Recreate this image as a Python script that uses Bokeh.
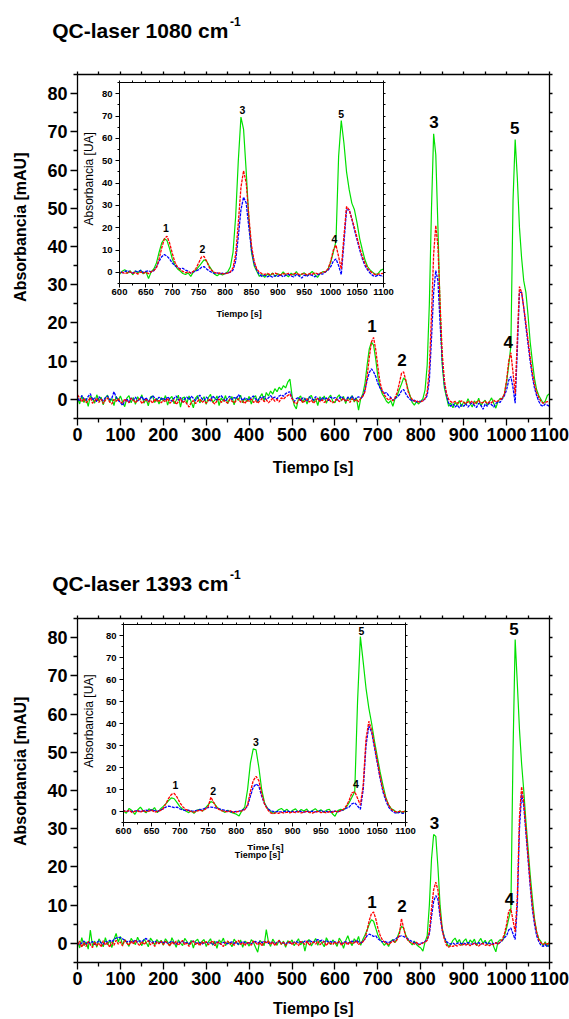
from math import pi

from bokeh.embed import file_html
from bokeh.layouts import column
from bokeh.models import ColumnDataSource, FixedTicker, Label, LinearAxis, Range1d
from bokeh.plotting import figure
from bokeh.resources import INLINE

# ---------------------------------------------------------------- data
# sampling grid of the chromatograms, seconds
time_s = list(range(0, 1101, 5))

# QC-laser at 1080 cm-1
green_1080 = [
    0.5, -1.2, 1.0, -0.8, 0.3, -1.8, 0.9, 0.2, -1.0, 1.2, -0.5, 0.6, -1.4, 0.4, 1.1, -0.7, 0.2, -1.6, 0.8, -0.3,
    0.9, -0.6, -1.9, 0.3, 1.0, -0.9, 0.5, -1.3, 0.7, -0.2, 1.2, -1.0, 0.1, -1.7, 0.6, 0.9, -0.8, 0.3, -1.2, 0.5,
    -0.4, 1.0, -1.5, 0.2, 0.8, -1.1, -0.3, 1.1, -2.0, 0.4, 0.6, -1.0, 0.9, -0.6, -2.2, 0.3, 1.0, -0.9, -0.2, 0.7,
    -1.3, 0.5, 1.3, -0.8, -0.2, 0.9, -1.6, 0.4, -0.5, 1.0, -1.1, 0.2, 0.7, -1.4, 0.6, -0.3, 1.1, -0.9, 0.3, -0.6,
    0.8, -1.2, 0.4, 1.0, -0.7, 0.6, 1.5, -0.4, 1.8, 0.9, 2.2, 1.4, 2.8, 2.0, 3.2, 2.5, 3.6, 3.0, 4.5, 5.3,
    1.0, -1.5, -2.5, 0.3, 0.9, -0.8, 0.4, -1.2, 0.6, 1.0, -0.5, 0.2, -1.6, 0.7, -0.3, 0.9, -1.0, 0.4, 1.1, -0.6,
    -0.9, 0.5, 1.2, -0.4, 0.8, -1.1, 0.6, -0.2, 1.0, -0.7, 0.4, -2.8, 0.2, 1.5, 4.2, 9.0, 13.2, 15.0, 14.2, 10.5,
    6.0, 3.2, 1.5, 0.6, -0.5, -1.0, -0.3, -1.8, 0.2, 1.0, 2.6, 4.0, 5.6, 5.0, 2.8, 1.0, -0.8, -1.5, -0.6, -1.2,
    -0.5, 0.2, 2.5, 9.0, 25.0, 50.0, 69.5, 64.0, 45.0, 24.0, 9.0, 3.0, 0.5, -1.8, -1.0, -2.2, -0.8, -1.5, -0.3, -1.9,
    -0.6, -1.4, 0.2, -1.1, -2.0, -0.4, -1.2, 0.3, -1.7, -0.8, -0.2, -1.5, -0.6, 0.4, -1.0, -2.3, -0.5, 0.3, 0.1, 1.5,
    4.5, 9.0, 14.0, 52.0, 68.0, 58.0, 45.0, 37.0, 31.0, 28.0, 22.0, 15.0, 10.0, 5.5, 2.5, 1.0, 0.0, -1.0, -0.5, 1.0,
    1.5,
]
red_1080 = [
    1.2, 0.4, -0.6, 0.2, -0.9, -0.3, 0.5, -1.0, -0.4, 0.3, -0.8, 0.1, -1.1, -0.2, 0.4, -0.7, -1.2, 0.0, -0.5, 0.2,
    -0.6, -1.0, 0.1, -0.4, -0.9, 0.3, -0.2, -0.8, -0.3, 0.2, -1.1, -0.5, 0.0, -0.7, -0.2, -1.0, 0.1, -0.6, -0.3, -0.9,
    -0.2, -0.7, 0.3, -1.0, -0.5, -0.1, -1.3, -0.6, 0.2, -0.9, -0.4, -1.2, -2.0, -0.8, -0.3, -1.1, -0.5, 0.1, -0.8, -0.4,
    -1.0, -0.3, 0.2, -0.7, -1.2, -0.4, 0.1, -0.8, -0.2, -0.6, -1.0, 0.0, -0.5, -0.9, -0.3, 0.2, -0.7, -0.4, -1.1, -0.2,
    -0.5, 0.1, -0.8, -0.3, -1.0, -0.4, 0.2, -0.6, -0.1, -0.9, -0.3, 0.3, -0.5, 0.0, -0.7, 0.4, 0.1, 0.6, 1.0, 1.4,
    0.2, -0.8, -1.2, -0.3, 0.1, -0.9, -0.4, 0.2, -0.7, -0.2, -1.0, -0.3, 0.3, -0.6, -0.1, -0.8, -0.4, 0.2, -0.5, -0.9,
    -0.3, 0.1, -0.6, -0.2, 0.3, -0.5, -0.1, -0.8, 0.2, -0.4, 0.0, -0.6, 0.3, 0.8, 2.0, 6.0, 11.0, 15.0, 16.2, 13.0,
    8.5, 4.5, 2.3, 1.2, 0.4, -0.2, 0.3, -0.4, 0.5, 1.8, 4.2, 6.8, 7.2, 5.0, 2.2, 0.8, 0.0, -0.5, -0.3, -0.7,
    -0.6, -0.4, 0.2, 2.0, 8.0, 22.0, 38.0, 45.5, 40.0, 25.0, 12.0, 5.0, 1.5, 0.0, -0.6, -0.9, -0.5, -1.0, -0.7, -0.4,
    -0.8, -1.1, -0.6, -0.9, -0.4, -1.2, -0.7, -0.3, -1.0, -0.8, -0.5, -1.1, -0.6, -0.9, -0.2, -0.7, -0.4, 0.0, 0.3, 1.5,
    5.0, 10.0, 12.2, 7.0, 1.5, 16.0, 29.5, 28.0, 24.0, 20.0, 15.5, 11.0, 7.0, 4.0, 1.8, 0.5, -0.5, -1.0, -0.8, -0.6,
    -0.5,
]
blue_1080 = [
    0.3, -0.5, 1.0, 0.2, -0.3, 0.8, 1.5, -0.2, 0.4, -0.6, 0.7, 0.1, -0.4, 0.5, 0.9, -0.1, 0.3, 2.0, 0.6, -0.3,
    -0.8, -1.6, -0.5, 0.2, -0.9, 0.4, -0.2, 0.6, -0.4, 0.1, 0.8, -0.3, 0.5, -0.6, 0.2, 1.0, 0.4, -0.2, 0.6, 0.0,
    0.4, -0.3, 0.7, 0.1, -0.5, 0.3, 0.9, -0.2, 0.5, -0.7, 0.2, 0.6, -0.1, 0.8, 0.3, -0.4, 0.5, 1.1, 0.2, -0.3,
    0.6, 0.1, -0.4, 0.9, 0.3, -0.2, 0.7, 1.0, 0.2, -0.5, 0.4, 0.8, -0.1, 0.5, 0.2, 1.2, 0.6, -0.3, 0.4, 0.1,
    -0.2, 0.5, 0.9, 0.1, -0.4, 0.6, 0.2, 0.8, -0.1, 0.4, 1.0, 0.3, 0.6, 0.1, 0.9, 1.2, 0.8, 1.5, 1.8, 2.0,
    0.3, -0.6, 0.2, 0.5, -0.3, 0.4, 0.1, -0.5, 0.6, 0.2, -0.2, 0.7, 0.3, -0.4, 0.5, 0.0, 0.4, -0.3, 0.6, 0.2,
    0.5, -0.2, 0.3, 0.8, 0.1, -0.4, 0.6, 0.2, 0.9, -0.1, 0.4, 0.7, 0.2, 0.8, 2.5, 5.0, 7.0, 8.0, 7.2, 6.0,
    4.2, 3.0, 2.2, 1.6, 1.8, 1.0, 0.5, -0.3, 0.2, 0.6, 1.2, 2.2, 2.6, 1.5, 0.6, 0.0, -0.5, -0.2, -0.7, -0.4,
    -0.6, -0.3, 0.1, 1.0, 5.0, 16.0, 28.0, 33.7, 31.0, 20.0, 10.0, 4.0, 1.0, -1.0, -1.8, -1.2, -2.0, -1.5, -2.2, -1.4,
    -1.8, -1.1, -2.0, -1.3, -0.9, -1.6, -2.1, -1.0, -1.5, -2.6, -1.2, -1.8, -0.9, -1.4, -2.0, -1.1, -0.6, -0.8, 0.2, 1.0,
    2.5, 5.0, 6.0, 3.0, -1.0, 13.0, 28.0, 28.0, 24.0, 19.0, 14.5, 10.0, 6.0, 3.0, 1.0, -0.5, -1.5, -1.8, -1.2, -1.5,
    -1.8,
]

# QC-laser at 1393 cm-1
green_1393 = [
    0.8, -1.2, 1.5, -0.6, 0.4, -1.5, 3.5, -0.8, 0.6, -1.0, 1.2, 0.2, -0.9, 1.5, -0.4, 0.8, -1.1, 1.0, 2.6, 0.3,
    1.8, -0.5, 1.0, 0.2, -0.8, 1.3, 0.5, -0.3, 1.6, 0.4, -0.6, 1.1, 0.3, -0.9, 1.4, 0.6, -0.4, 1.0, 0.2, 0.8,
    -0.5, 1.2, 0.4, -0.7, 1.5, 0.3, -1.0, 0.9, 0.1, -0.6, 1.3, 0.5, -0.4, 0.8, -1.2, 0.6, 1.1, -0.3, 0.5, 1.0,
    -0.8, 0.4, 1.2, -0.5, 0.6, -1.3, 0.9, 0.2, 1.4, -0.6, 0.5, 0.1, -0.9, 1.1, 0.3, -0.4, 0.9, -1.0, 0.6, 0.2,
    -0.7, 1.0, 0.3, -1.1, -2.3, 0.8, 0.2, -0.6, 3.6, 0.4, -0.8, 1.1, 0.2, -0.5, 0.9, -0.3, 0.6, -1.0, 0.7, 0.1,
    0.9, -0.6, 0.3, 1.2, -0.4, 0.6, -2.0, 0.5, 1.0, -0.7, 0.3, 1.3, -0.5, 0.8, 0.1, -0.9, 1.5, 0.4, -0.3, 0.9,
    0.2, -0.8, 1.4, 0.5, -1.3, 0.7, 2.0, 0.3, -0.6, 1.2, 0.4, 1.8, -0.5, 1.0, 2.2, 3.5, 5.0, 6.2, 5.8, 4.0,
    2.2, 1.0, 0.3, -0.5, 0.2, -0.8, 0.5, 1.0, 0.2, 1.5, 3.0, 4.5, 4.0, 2.2, 1.0, 0.3, -0.4, 0.6, -0.3, -0.8,
    -1.2, -2.0, 0.4, 2.0, 10.0, 22.0, 28.5, 28.0, 20.0, 10.0, 4.0, 1.5, 0.2, -0.8, -0.3, 0.8, 1.4, 0.2, 1.0, -0.5,
    0.6, 1.2, -0.3, 0.9, 0.2, 1.1, -0.6, 0.5, 1.3, 0.0, 0.8, -0.4, 0.6, 1.0, -0.9, -2.2, 0.4, 1.0, 0.6, 2.0,
    4.0, 6.5, 9.0, 50.0, 79.5, 68.0, 56.0, 47.0, 40.0, 32.0, 25.0, 18.0, 12.0, 6.5, 3.0, 1.2, 0.5, -0.6, 0.4, -0.8,
    0.5,
]
red_1393 = [
    -0.5, 0.6, -1.0, 0.2, -0.8, 0.5, -0.3, -1.1, 0.4, -0.6, 0.1, -0.9, 0.7, -0.4, 0.2, -1.0, 0.3, -0.5, 0.8, -0.2,
    0.4, -0.7, 0.9, 0.1, -0.5, 0.6, -0.2, 0.8, 0.0, -0.6, 0.5, -0.3, 0.3, 0.7, -0.4, 0.2, -0.8, 0.4, -0.1, 0.6,
    -0.3, 0.5, 0.1, -0.7, 0.4, -0.2, 0.6, -0.5, 0.2, 0.8, -0.4, 0.1, -0.8, 0.3, 0.6, -0.3, 0.2, -0.6, 0.4, 0.0,
    0.5, -0.4, 0.2, 0.7, -0.6, 0.1, 0.4, -0.3, -0.8, 0.3, 0.6, -0.2, 0.1, -0.5, 0.4, 0.8, -0.3, 0.2, -0.6, 0.3,
    0.1, -0.5, 0.6, 0.2, -0.4, 0.3, -0.7, 0.5, 0.0, 0.7, -0.3, 0.4, -0.6, 0.2, 0.8, -0.2, 0.3, -0.5, 0.1, 0.6,
    -0.4, 0.3, 0.0, -0.6, 0.5, 0.2, -0.3, 0.7, -0.5, 0.1, 0.4, -0.2, 0.6, -0.4, 0.2, 0.5, -0.6, 0.3, 0.0, -0.3,
    0.4, -0.2, 0.6, -0.5, 0.1, 0.3, -0.4, 0.5, -0.1, 0.2, 0.6, -0.3, 0.1, 0.4, 1.2, 3.5, 6.0, 7.8, 8.2, 6.5,
    4.0, 2.2, 1.0, 0.4, 0.0, -0.3, 0.2, 0.6, 0.3, 1.0, 2.2, 6.5, 4.0, 1.8, 0.8, 0.3, 0.1, -0.2, 0.3, -0.4,
    -0.2, 0.1, 0.3, 0.8, 3.0, 9.0, 14.0, 16.0, 14.0, 8.0, 3.5, 1.0, -0.5, -1.0, -0.6, -0.8, -0.4, -0.7, -0.3, -0.6,
    -0.2, -0.5, -0.1, -0.6, -0.3, 0.1, -0.4, -0.7, -0.2, 0.0, -0.5, -0.3, -0.6, -0.1, -0.4, 0.2, -0.2, 0.4, 1.0, 2.5,
    5.0, 8.5, 9.0, 6.0, 3.0, 12.0, 33.0, 41.0, 37.0, 30.0, 23.0, 16.0, 10.0, 6.0, 3.0, 1.0, 0.2, -0.3, 0.1, -0.2,
    0.2,
]
blue_1393 = [
    0.3, -0.4, 0.1, 0.6, -0.2, 0.4, 0.0, 0.5, -0.3, 0.2, 0.7, 0.1, -0.2, 0.5, 0.3, 0.8, 0.4, 1.0, 1.4, 1.6,
    1.5, 1.2, 0.8, 0.4, 0.6, 0.2, 0.5, 0.9, 0.3, 0.7, 0.4, 1.0, 1.3, 0.8, 0.5, 0.2, 0.6, 0.3, 0.1, 0.4,
    0.2, 0.5, 0.0, 0.3, 0.6, 0.1, -0.2, 0.4, 0.2, 0.5, 0.0, 0.3, -0.1, 0.4, 0.6, 0.2, 0.0, 0.3, -0.2, 0.1,
    0.3, 0.0, 0.2, -0.3, 0.1, 0.4, 0.0, -0.2, 0.3, 0.1, -0.1, 0.2, 0.4, 0.0, 0.3, -0.2, 0.1, 0.5, 0.2, 0.0,
    0.2, -0.1, 0.3, 0.5, 0.1, 0.4, 0.2, 0.6, 0.3, 0.0, 0.4, 0.2, -0.1, 0.3, 0.5, 0.1, 0.2, -0.2, 0.3, 0.1,
    0.0, 0.3, 0.5, 0.2, 0.4, 0.1, 0.6, 0.3, 0.8, 0.5, 0.2, 0.7, 1.0, 0.6, 0.9, 0.4, 0.7, 0.3, 0.5, 0.2,
    0.4, 0.1, 0.3, -0.1, 0.2, 0.5, 0.0, 0.3, 0.6, 0.2, 0.8, 0.4, 0.1, 0.5, 1.2, 2.0, 2.4, 2.2, 1.8, 2.0,
    1.2, 0.8, 0.4, 0.6, 0.3, 0.2, 0.5, 0.8, 1.0, 1.5, 1.8, 2.0, 1.8, 1.5, 1.2, 0.8, 0.5, 0.2, 0.0, -0.2,
    0.0, 0.2, 0.5, 1.0, 2.5, 7.0, 11.0, 12.5, 11.5, 7.0, 3.5, 1.5, 0.5, 0.0, -0.2, 0.1, -0.3, 0.0, 0.2, -0.1,
    0.1, -0.2, 0.2, 0.0, -0.3, 0.1, -0.1, 0.2, -0.2, 0.0, 0.3, -0.1, 0.1, -0.3, 0.0, 0.2, -0.2, 0.3, 0.8, 1.5,
    2.0, 3.5, 4.0, 2.5, 1.0, 10.0, 30.0, 39.0, 36.0, 29.0, 22.0, 15.0, 9.0, 5.0, 2.0, 0.5, -0.5, -0.8, -0.3, -0.9,
    -0.5,
]

for series in (green_1080, red_1080, blue_1080, green_1393, red_1393, blue_1393):
    assert len(series) == len(time_s), len(series)

# peak numbering and where the numbers sit (seconds, absorbance)
peak_names = ["1", "2", "3", "4", "5"]
peak_pos_1080 = [(686, 19.3), (756, 10.2), (831, 72.7), (1004, 15.0), (1019, 70.9)]
inset_peak_pos_1080 = [(688, 19.8), (757, 10.6), (833, 72.8), (1007, 15.0), (1020, 71.0)]
peak_pos_1393 = [(686, 10.9), (756, 9.7), (832, 31.5), (1007, 11.7), (1017, 82.2)]
inset_peak_pos_1393 = [(692, 11.9), (759, 9.3), (835, 31.6), (1012, 12.3), (1022, 82.2)]

main_x_ticks = list(range(0, 1101, 100))
main_x_minor = list(range(50, 1100, 100))
inset_x_ticks = list(range(600, 1101, 50))
inset_x_minor = list(range(625, 1100, 50))
y_ticks = list(range(0, 81, 10))
y_minor = list(range(-5, 86, 10))

# ---------------------------------------------------------------- styling
GREEN = "#00e000"
RED = "#ff0000"
BLUE = "#0000ff"
SANS = "Liberation Sans"
PAGE_W, PAGE_H = 569, 1019


def framed_plot(width, height, borders, x_rng, y_rng, x_major, x_minor, lw,
                tick_out, minor_out, side_out, label_size, x_standoff, y_standoff,
                transparent=False):
    left, right, top, bottom = borders
    p = figure(width=width, height=height, title=None,
               x_range=Range1d(*x_rng), y_range=Range1d(*y_rng),
               x_axis_type=None, y_axis_type=None,
               min_border_left=left, min_border_right=right,
               min_border_top=top, min_border_bottom=bottom,
               frame_align=False,
               output_backend="svg", toolbar_location=None)
    p.outline_line_color = None
    fill = None if transparent else "white"
    p.background_fill_color = fill
    p.border_fill_color = fill

    def axis(ticks, minor, place, labelled):
        if labelled:
            ticker = FixedTicker(ticks=ticks, minor_ticks=minor)
        else:
            # tick marks only on the mirrored sides
            ticker = FixedTicker(ticks=[], minor_ticks=sorted(ticks + minor))
        ax = LinearAxis(ticker=ticker)
        ax.axis_line_color = "black"
        ax.axis_line_width = lw
        ax.major_tick_line_color = "black"
        ax.minor_tick_line_color = "black"
        ax.major_tick_line_width = lw
        ax.minor_tick_line_width = lw
        ax.major_tick_in = 0
        ax.minor_tick_in = 0
        if labelled:
            ax.major_tick_out = tick_out
            ax.minor_tick_out = minor_out
            ax.major_label_text_font = SANS
            ax.major_label_text_font_style = "bold"
            ax.major_label_text_font_size = label_size
            ax.major_label_text_color = "black"
            ax.major_label_standoff = x_standoff if place == "below" else y_standoff
        else:
            ax.major_tick_out = 0
            ax.minor_tick_out = side_out
        p.add_layout(ax, place)

    axis(x_major, x_minor, "below", True)
    axis(y_ticks, y_minor, "left", True)
    axis(x_major, x_minor, "above", False)
    axis(y_ticks, y_minor, "right", False)
    return p


def draw_traces(p, green, red, blue):
    src = ColumnDataSource(dict(t=time_s, g=green, r=red, b=blue))
    p.line("t", "g", source=src, line_color=GREEN, line_width=1.2)
    p.line("t", "b", source=src, line_color=BLUE, line_width=1.3, line_dash="3 1")
    p.line("t", "r", source=src, line_color=RED, line_width=1.3, line_dash="3 1")


def text(p, x, y, s, size, bold=True, align="center", baseline="middle",
         angle=0.0, **kw):
    lab = Label(x=x, y=y, text=s, text_font=SANS, text_font_size=size,
                text_font_style="bold" if bold else "normal", text_color="black",
                text_align=align, text_baseline=baseline, angle=angle, **kw)
    p.add_layout(lab)


def main_panel(green, red, blue, peaks, height, borders):
    p = framed_plot(569, height, borders, (0, 1100), (-5, 85),
                    main_x_ticks, main_x_minor, 1.3, 7, 4, 3, "18px", 2, 3)
    draw_traces(p, green, red, blue)
    for name, (px, py) in zip(peak_names, peaks):
        text(p, px, py, name, "17px")
    return p


def inset_panel(green, red, blue, width, height, borders, peaks):
    p = framed_plot(width, height, borders, (600, 1100), (-5, 85),
                    inset_x_ticks, inset_x_minor, 1.0, 4, 2, 2, "9.5px", 1, 3,
                    transparent=True)
    draw_traces(p, green, red, blue)
    for name, (px, py) in zip(peak_names, peaks):
        text(p, px, py, name, "10.5px")
    return p


top_main = main_panel(green_1080, red_1080, blue_1080, peak_pos_1080,
                      490, (77, 20, 74, 72))
top_inset = inset_panel(green_1080, red_1080, blue_1080, 315, 250,
                        (39, 12, 10, 39), inset_peak_pos_1080)
bottom_main = main_panel(green_1393, red_1393, blue_1393, peak_pos_1393,
                         489, (77, 20, 88, 57))
bottom_inset = inset_panel(green_1393, red_1393, blue_1393, 333, 248,
                           (39, 12, 10, 40), inset_peak_pos_1393)

# titles and axis captions live on a transparent sheet laid over the page,
# addressed in page pixels (y measured from the top)
sheet = figure(width=PAGE_W, height=PAGE_H, title=None,
               x_range=Range1d(0, PAGE_W), y_range=Range1d(0, PAGE_H),
               x_axis_type=None, y_axis_type=None, min_border=0,
               frame_align=False,
               output_backend="svg", toolbar_location=None)
sheet.outline_line_color = None
sheet.background_fill_color = None
sheet.border_fill_color = None


def caption(x, y_from_top, s, size, **kw):
    text(sheet, x, PAGE_H - y_from_top, s, size, **kw)


for top_y, sup_y, label in ((30.3, 21.0, "QC-laser 1080 cm"),
                            (583.3, 573.5, "QC-laser 1393 cm")):
    caption(51.7, top_y, label, "21px", align="left", baseline="alphabetic")
    caption(229.5, sup_y, "-1", "12px", align="left", baseline="alphabetic")

caption(20, 226.7, "Absorbancia [mAU]", "16px", angle=pi / 2)
caption(20, 770.8, "Absorbancia [mAU]", "16px", angle=pi / 2)
caption(312.5, 466.7, "Tiempo [s]", "16px")
caption(312.8, 1008.3, "Tiempo [s]", "16px")

caption(88, 178.3, "Absorbancia [UA]", "12px", bold=False, angle=pi / 2)
caption(88.4, 720.5, "Absorbancia [UA]", "12px", bold=False, angle=pi / 2)
caption(238.6, 313.3, "Tiempo [s]", "9px")
# an older caption peeks out from under the current one
caption(265, 846.7, "Time [s]", "9.5px")
caption(257, 854.5, "Tiempo [s]", "9px", background_fill_color="white")

# stack the panels and float each inset (and the caption sheet) over the page
top_inset.margin = (72 - 490, 0, 0, 80)
bottom_main.margin = (530 - 322, 0, 0, 0)
bottom_inset.margin = (614 - 1019, 0, 0, 84)
sheet.margin = (-(614 + 248), 0, 0, 0)

page = column(top_main, top_inset, bottom_main, bottom_inset, sheet, spacing=0)

open("out.html", "w").write(file_html(page, INLINE))
